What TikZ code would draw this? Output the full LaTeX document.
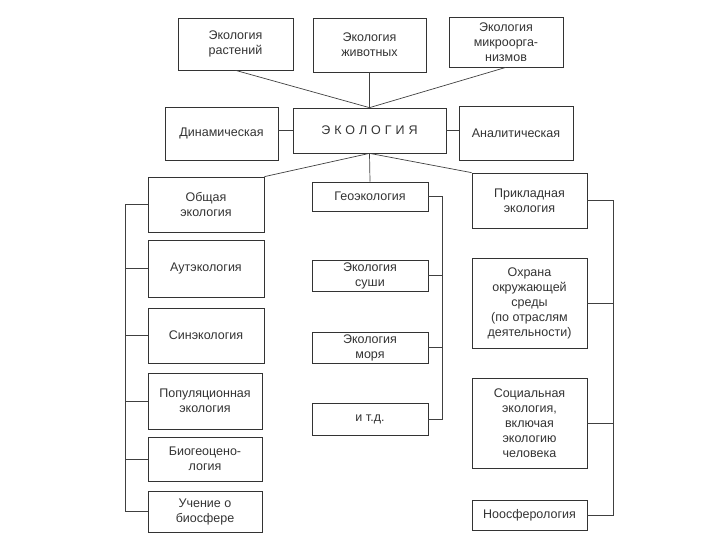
\documentclass[tikz,border=0pt]{standalone}
\usepackage{fontspec}
\setmainfont{Liberation Sans}
\usetikzlibrary{positioning}
\tikzset
{
    box/.style  = {rectangle, draw=black!80, line width=0.7pt, align=center, text=black!80, font=\fontsize{12.5}{15}\selectfont, inner sep=1pt},
    link/.style = {draw=black!75, line width=0.7pt}
}

\begin{document}
\begin{tikzpicture}[x=1pt, y=-1pt]
	\useasboundingbox (0,0) rectangle (720,540);
	% top row
	\node[box, minimum width=115, minimum height=52] (rast)  at (235.5,44) {Экология\\растений};
	\node[box, minimum width=113, minimum height=54] (zhiv)  at (369.5,45) {Экология\\животных};
	\node[box, minimum width=114, minimum height=50] (mikro) at (506,42)   {Экология\\микроорга-\\низмов};
	% middle row
	\node[box, minimum width=113, minimum height=53] (dinam) at (221.5,133.5) {Динамическая};
	\node[box, minimum width=153, minimum height=45] (ekol)  at (369.5,130.5) {\addfontfeature{LetterSpace=32}ЭКОЛОГИЯ};
	\node[box, minimum width=114, minimum height=54] (anal)  at (516,133)     {Аналитическая};
	% left column
	\node[box, minimum width=116, minimum height=55] (obsh) at (206,204.5) {Общая\\экология};
	\node[box, minimum width=116, minimum height=57] (aut)  at (206,268.5) {Аутэкология};
	\node[box, minimum width=116, minimum height=55] (sin)  at (206,335.5) {Синэкология};
	\node[box, minimum width=114, minimum height=56] (pop)  at (205,401)   {Популяционная\\экология};
	\node[box, minimum width=114, minimum height=44] (biog) at (205,459)   {Биогеоцено-\\логия};
	\node[box, minimum width=114, minimum height=41] (uch)  at (205,511.5) {Учение о\\биосфере};
	% middle column
	\node[box, minimum width=116, minimum height=29] (geo)   at (370,196.5) {Геоэкология};
	\node[box, minimum width=116, minimum height=31] (sushi) at (370,275.5) {Экология\\суши};
	\node[box, minimum width=116, minimum height=31] (morya) at (370,347.5) {Экология\\моря};
	\node[box, minimum width=116, minimum height=32] (itd)   at (370,419)   {и т.д.};
	% right column
	\node[box, minimum width=115, minimum height=55] (prikl) at (529.5,200.5) {Прикладная\\экология};
	\node[box, minimum width=115, minimum height=90] (ohr)   at (529.5,303)   {Охрана\\окружающей\\среды\\(по отраслям\\деятельности)};
	\node[box, minimum width=115, minimum height=90] (soc)   at (529.5,423)   {Социальная\\экология,\\включая\\экологию\\человека};
	\node[box, minimum width=115, minimum height=30] (noos)  at (529.5,515)   {Ноосферология};
	% bus lines
	\coordinate (lbus) at (125,0);
	\coordinate (mbus) at (442,0);
	\coordinate (rbus) at (613,0);

	\draw[link] (rast.south) -- (ekol.north);
	\draw[link] (zhiv.south) -- (ekol.north);
	\draw[link] (mikro.south) -- (ekol.north);
	\draw[link] (ekol.west) -- (ekol.west -| dinam.east);
	\draw[link] (ekol.east) -- (ekol.east -| anal.west);
	\draw[link] (ekol.south) -- (obsh.north east);
	\draw[link] (ekol.south) -- (geo.north);
	\draw[link] (ekol.south) -- (prikl.north west);

	\draw[link] (obsh.west) -- (obsh.west -| lbus) -- (uch.west -| lbus) -- (uch.west);
	\foreach \n in {aut,sin,pop,biog}
		\draw[link] (\n.west) -- (\n.west -| lbus);

	\draw[link] (geo.east) -- (geo.east -| mbus) -- (itd.east -| mbus) -- (itd.east);
	\foreach \n in {sushi,morya}
		\draw[link] (\n.east) -- (\n.east -| mbus);

	\draw[link] (prikl.east) -- (prikl.east -| rbus) -- (noos.east -| rbus) -- (noos.east);
	\foreach \n in {ohr,soc}
		\draw[link] (\n.east) -- (\n.east -| rbus);
\end{tikzpicture}
\end{document}
